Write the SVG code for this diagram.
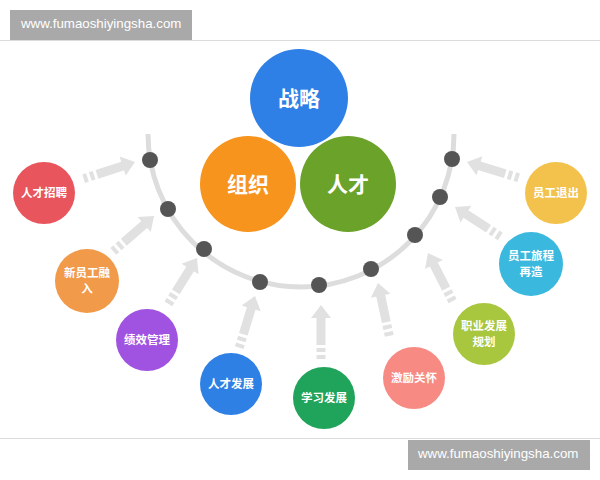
<svg xmlns="http://www.w3.org/2000/svg" xmlns:xlink="http://www.w3.org/1999/xlink" width="600" height="480" viewBox="0 0 600 480">
<style>
.big{font-family:"Noto Sans CJK SC","Liberation Sans",sans-serif;font-size:21px;font-weight:bold;fill:#fff;text-anchor:middle}
.sm{font-family:"Noto Sans CJK SC","Liberation Sans",sans-serif;font-size:11.5px;font-weight:bold;fill:#fff;text-anchor:middle}
.wm{font-family:"Liberation Sans","DejaVu Sans",sans-serif;font-size:13.3px;fill:#fff}
.rule{stroke:#dcdcdc;stroke-width:1.2}
.arc{fill:none;stroke:#dddddd;stroke-width:5}
.dot{fill:#555555}
.ar{fill:#e1e1e1}
</style>
<defs>
<g id="arr" class="ar">
<polygon points="0,0 -10,13 10,13"/>
<rect x="-4.5" y="12" width="9" height="28"/>
<rect x="-4.5" y="43" width="9" height="4"/>
<rect x="-4.5" y="50" width="9" height="4"/>
</g>
</defs>
<rect width="600" height="480" fill="#fff"/>
<line class="rule" x1="0" y1="40.5" x2="600" y2="40.5"/>
<line class="rule" x1="0" y1="438.5" x2="600" y2="438.5"/>
<g id="watermark-top">
<rect x="10" y="10" width="182" height="30" fill="#a9a9a9"/>
<text class="wm" x="21" y="28">www.fumaoshiyingsha.com</text>
</g>
<g id="watermark-bottom">
<rect x="408" y="440" width="182" height="30" fill="#a9a9a9"/>
<text class="wm" x="418" y="458">www.fumaoshiyingsha.com</text>
</g>
<g id="connectors">
<path class="arc" d="M148,134 A153,153 0 0 0 454,134"/>
<use xlink:href="#arr" transform="translate(135,162) rotate(72)"/>
<use xlink:href="#arr" transform="translate(154,216) rotate(49)"/>
<use xlink:href="#arr" transform="translate(197,258) rotate(32)"/>
<use xlink:href="#arr" transform="translate(255,296) rotate(17)"/>
<use xlink:href="#arr" transform="translate(321,305) rotate(0)"/>
<use xlink:href="#arr" transform="translate(378,283) rotate(-12)"/>
<use xlink:href="#arr" transform="translate(428,253) rotate(-27)"/>
<use xlink:href="#arr" transform="translate(455,207) rotate(-57)"/>
<use xlink:href="#arr" transform="translate(467,162) rotate(-73)"/>
<circle class="dot" cx="150" cy="160" r="8"/>
<circle class="dot" cx="168" cy="209" r="8"/>
<circle class="dot" cx="204" cy="249" r="8"/>
<circle class="dot" cx="260" cy="282" r="8"/>
<circle class="dot" cx="319" cy="285" r="8"/>
<circle class="dot" cx="371" cy="269" r="8"/>
<circle class="dot" cx="415" cy="235" r="8"/>
<circle class="dot" cx="440" cy="197" r="8"/>
<circle class="dot" cx="452" cy="159" r="8"/>
</g>
<g id="strategy"><circle cx="299" cy="98" r="49" fill="#2f80e6"/><text class="big" x="299" y="106">战略</text></g>
<g id="organization"><circle cx="248" cy="184" r="48" fill="#f7941d"/><text class="big" x="248" y="192">组织</text></g>
<g id="talent"><circle cx="348" cy="184" r="48" fill="#6aa22a"/><text class="big" x="348" y="192">人才</text></g>
<g id="recruit"><circle cx="44" cy="193" r="31" fill="#e8555c"/><text class="sm" x="44" y="197">人才招聘</text></g>
<g id="onboard"><circle cx="87" cy="281" r="32" fill="#f09a4a"/><text class="sm" x="87" y="277">新员工融</text><text class="sm" x="87" y="293">入</text></g>
<g id="performance"><circle cx="147" cy="340" r="31" fill="#a052e0"/><text class="sm" x="147" y="344">绩效管理</text></g>
<g id="talent-dev"><circle cx="231" cy="384" r="31" fill="#2f80e4"/><text class="sm" x="231" y="388">人才发展</text></g>
<g id="learning"><circle cx="324" cy="398" r="31" fill="#20a35a"/><text class="sm" x="324" y="402">学习发展</text></g>
<g id="incentive"><circle cx="414" cy="378" r="31" fill="#f78a82"/><text class="sm" x="414" y="382">激励关怀</text></g>
<g id="career"><circle cx="484" cy="334" r="31" fill="#a8c63e"/><text class="sm" x="484" y="330">职业发展</text><text class="sm" x="484" y="346">规划</text></g>
<g id="journey"><circle cx="531" cy="264" r="32" fill="#3bb8dd"/><text class="sm" x="531" y="260">员工旅程</text><text class="sm" x="531" y="276">再造</text></g>
<g id="exit"><circle cx="556" cy="193" r="31" fill="#f2c24c"/><text class="sm" x="556" y="197">员工退出</text></g>
</svg>
